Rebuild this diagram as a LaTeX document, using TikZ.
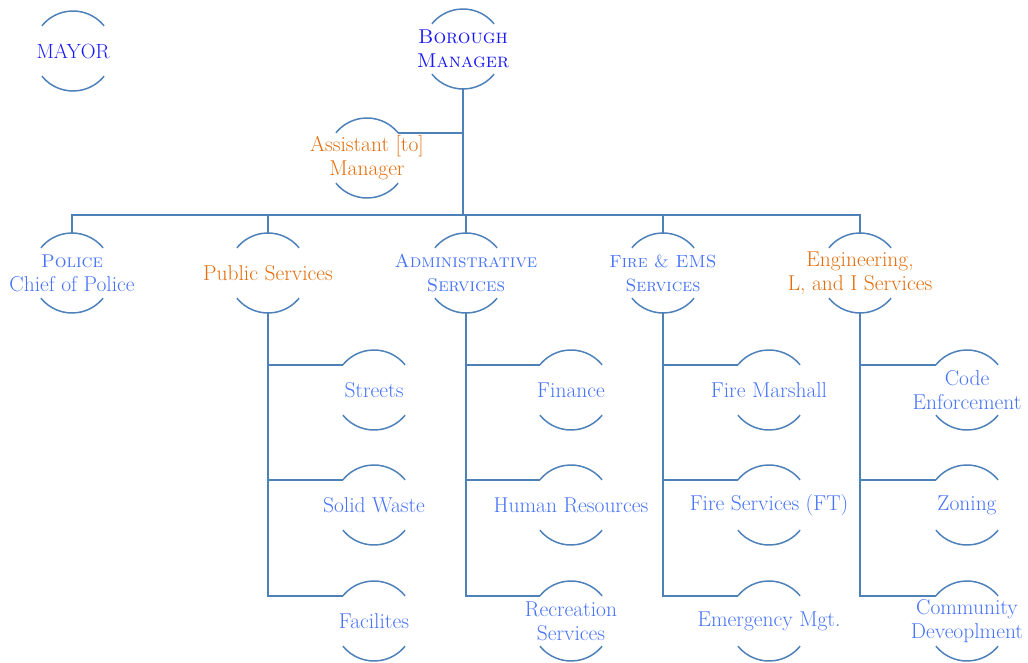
\documentclass[tikz,border=0pt]{standalone}
\usetikzlibrary{calc}
\definecolor{linec}{RGB}{79,129,185}
\definecolor{dblue}{RGB}{25,25,245}
\definecolor{lblue}{RGB}{70,115,250}
\definecolor{orng}{RGB}{228,108,10}
\newcommand\myscs[2]{{\fontsize{#1}{24}\selectfont\textsc{#2}}}
\begin{document}
\begin{tikzpicture}[x=1pt,y=1pt,
  org/.style={shape=rectangle,inner sep=0pt,align=center,font=\fontsize{21.5}{24}\selectfont,text=lblue},
  top/.style={org,text=dblue},
  hl/.style={org,text=orng},
  conn/.style={draw=linec,line width=1.6pt},
  arcline/.style={draw=linec,line width=1.5pt}]
\useasboundingbox (0,0) rectangle (1028,662);
% top
\node[top,font=\fontsize{20.5}{24}\selectfont] (mayor) at (73,611) {MAYOR};
\node[top] (bm) at (463,613) {\myscs{20}{Borough}\\\myscs{20}{Manager}};
\node[hl] (asst) at (367,504) {Assistant [to]\\Manager};
% level 2
\node[org] (police) at (72,389) {\myscs{18.5}{Police}\\Chief of Police};
\node[hl] (ps) at (268,389) {Public Services};
\node[org] (admin) at (466,389) {\myscs{18.6}{Administrative}\\\myscs{18.6}{Services}};
\node[org] (fire) at (663,389) {\myscs{17.5}{Fire \& EMS}\\\myscs{17.8}{Services}};
\node[hl] (eng) at (860,389) {Engineering,\\L, and I Services};
% level 3
\node[org] (streets) at (374,272) {Streets};
\node[org] (waste) at (374,157) {Solid Waste};
\node[org] (facil) at (374,41) {Facilites};
\node[org] (finance) at (571,272) {Finance};
\node[org] (hr) at (571,157) {Human Resources};
\node[org] (rec) at (571,41) {Recreation\\Services};
\node[org] (marshall) at (769,272) {Fire Marshall};
\node[org] (firesvc) at (769,157) {Fire Services (FT)};
\node[org] (emg) at (769,41) {Emergency Mgt.};
\node[org] (code) at (967,272) {Code\\Enforcement};
\node[org] (zoning) at (967,157) {Zoning};
\node[org] (comm) at (967,41) {Community\\Deveoplment};
% arcs and reference points
\foreach \n in {mayor,bm,asst,police,ps,admin,fire,eng,streets,waste,facil,finance,hr,rec,marshall,firesvc,emg,code,zoning,comm}{
  \coordinate (\n-t) at ($(\n.center)+(0,40)$);
  \coordinate (\n-b) at ($(\n.center)+(0,-40)$);
  \coordinate (\n-tl) at ($(\n.center)+(141:40)$);
  \coordinate (\n-tr) at ($(\n.center)+(39:40)$);
  \draw[arcline] (\n-tr) arc[start angle=39,end angle=141,radius=40pt];
  \draw[arcline] ($(\n.center)+(219:40)$) arc[start angle=219,end angle=321,radius=40pt];
}
% bus
\coordinate (busR) at ($(eng-t)+(0,18)$);
\draw[conn] (police-t) |- (busR) -- (eng-t);
\foreach \n in {ps,admin,fire}{\draw[conn] (\n-t) -- (\n-t |- busR);}
\draw[conn] (bm-b) -- (bm-b |- busR);
\draw[conn] (asst-tr) -| (bm-b);
% children
\foreach \p/\c in {ps/streets,ps/waste,ps/facil,admin/finance,admin/hr,admin/rec,fire/marshall,fire/firesvc,fire/emg,eng/code,eng/zoning,eng/comm}{
  \draw[conn] (\p-b) |- (\c-tl);
}
\end{tikzpicture}
\end{document}
